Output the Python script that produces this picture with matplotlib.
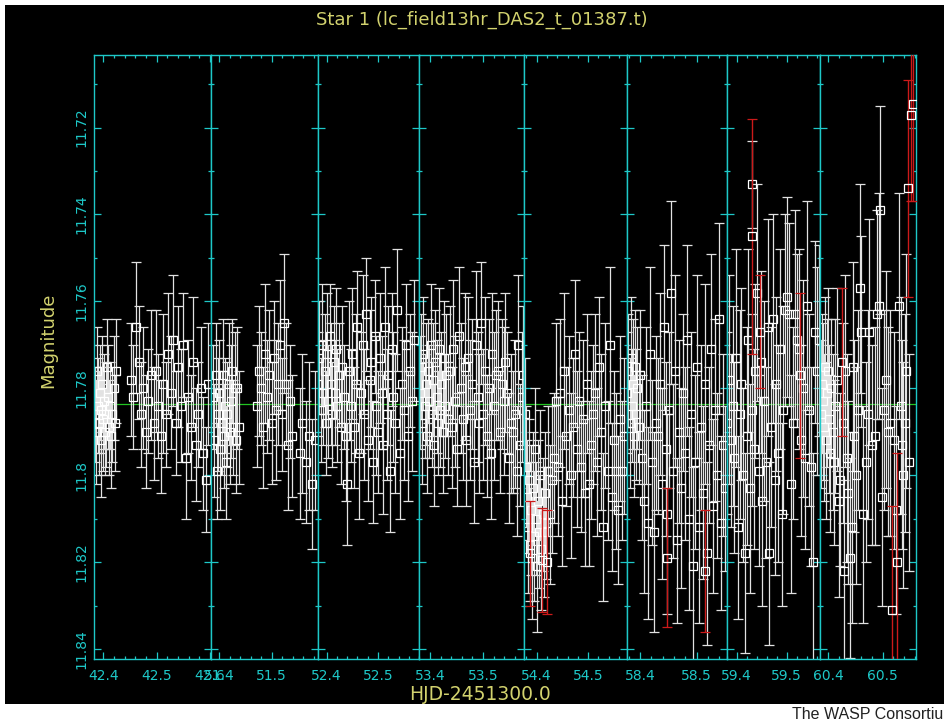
import matplotlib
matplotlib.use("Agg")
import matplotlib.pyplot as plt
from matplotlib.patches import Rectangle
from matplotlib.ticker import MultipleLocator, FuncFormatter

# --- light curve, one block per night (HJD-2451300.0, magnitude, error) ---
t_n1 = [42.3840, 42.3858, 42.3876, 42.3894, 42.3912, 42.3930, 42.3948, 42.3966, 42.3984, 42.4002,
        42.4020, 42.4038, 42.4056, 42.4074, 42.4092, 42.4110, 42.4130, 42.4150, 42.4170, 42.4192,
        42.4215, 42.4240,
        42.4520, 42.4565, 42.4610, 42.4660, 42.4705, 42.4750, 42.4800, 42.4845, 42.4890, 42.4940,
        42.4985, 42.5030, 42.5080, 42.5125, 42.5170, 42.5220, 42.5265, 42.5310, 42.5360, 42.5405,
        42.5450, 42.5500, 42.5545, 42.5590, 42.5640, 42.5685, 42.5730, 42.5780, 42.5825, 42.5870,
        42.5920, 42.5965]
mag_n1 = [11.786, 11.790, 11.776, 11.784, 11.788, 11.781, 11.792, 11.785, 11.779, 11.787,
          11.783, 11.790, 11.786, 11.775, 11.782, 11.789, 11.784, 11.791, 11.786, 11.780,
          11.788, 11.776,
          11.778, 11.782, 11.766, 11.774, 11.786, 11.780, 11.790, 11.783, 11.777, 11.788,
          11.776, 11.784, 11.791, 11.779, 11.786, 11.772, 11.781, 11.769, 11.788, 11.775,
          11.784, 11.770, 11.796, 11.782, 11.789, 11.774, 11.793, 11.786, 11.780, 11.795,
          11.801, 11.779]
err_n1 = [0.011, 0.012, 0.010, 0.011, 0.012, 0.011, 0.013, 0.010, 0.011, 0.012,
          0.011, 0.010, 0.012, 0.011, 0.012, 0.011, 0.010, 0.012, 0.011, 0.012,
          0.011, 0.012,
          0.013, 0.012, 0.015, 0.013, 0.012, 0.014, 0.013, 0.012, 0.015, 0.013,
          0.014, 0.012, 0.013, 0.016, 0.012, 0.014, 0.013, 0.015, 0.012, 0.014,
          0.013, 0.012, 0.014, 0.013, 0.012, 0.015, 0.013, 0.012, 0.014, 0.013,
          0.012, 0.014]

t_n2 = [51.3890, 51.3912, 51.3935, 51.3958, 51.3980, 51.4003, 51.4025, 51.4048, 51.4070, 51.4093,
        51.4115, 51.4138, 51.4160, 51.4183, 51.4205, 51.4228, 51.4250, 51.4273, 51.4295, 51.4318,
        51.4345, 51.4372,
        51.4720, 51.4760, 51.4800, 51.4838, 51.4878, 51.4918, 51.4955, 51.4995, 51.5035, 51.5072,
        51.5112, 51.5150, 51.5190, 51.5228, 51.5268, 51.5308, 51.5345, 51.5385,
        51.5530, 51.5580, 51.5640, 51.5700, 51.5760, 51.5820]
mag_n2 = [11.782, 11.792, 11.777, 11.799, 11.786, 11.781, 11.794, 11.788, 11.777, 11.791,
          11.784, 11.797, 11.786, 11.779, 11.790, 11.783, 11.776, 11.789, 11.780, 11.792,
          11.780, 11.789,
          11.784, 11.776, 11.780, 11.789, 11.772, 11.782, 11.777, 11.788, 11.773, 11.785,
          11.779, 11.770, 11.786, 11.765, 11.779, 11.793, 11.783, 11.791,
          11.795, 11.788, 11.797, 11.791, 11.802, 11.792]
err_n2 = [0.012, 0.013, 0.012, 0.011, 0.013, 0.012, 0.014, 0.012, 0.013, 0.012,
          0.011, 0.013, 0.012, 0.014, 0.012, 0.013, 0.012, 0.011, 0.013, 0.012,
          0.014, 0.013,
          0.014, 0.015, 0.013, 0.014, 0.016, 0.013, 0.015, 0.014, 0.013, 0.016,
          0.014, 0.015, 0.013, 0.016, 0.014, 0.015, 0.013, 0.014,
          0.015, 0.016, 0.014, 0.017, 0.015, 0.016]

t_n3 = [52.3835, 52.3860, 52.3885, 52.3910, 52.3935, 52.3960, 52.3985, 52.4010, 52.4035, 52.4060,
        52.4085, 52.4110, 52.4135, 52.4160, 52.4185, 52.4210, 52.4240, 52.4270, 52.4300, 52.4330,
        52.4370, 52.4400, 52.4435, 52.4470, 52.4500, 52.4535, 52.4570, 52.4600, 52.4635, 52.4670,
        52.4700, 52.4735, 52.4770, 52.4800, 52.4835, 52.4870, 52.4900, 52.4935, 52.4970, 52.5000,
        52.5035, 52.5070, 52.5100, 52.5135, 52.5170, 52.5200, 52.5235, 52.5270, 52.5300, 52.5340,
        52.5380, 52.5420, 52.5460, 52.5500, 52.5540, 52.5580, 52.5620, 52.5660, 52.5700]
mag_n3 = [11.779, 11.773, 11.785, 11.770, 11.781, 11.776, 11.788, 11.772, 11.783, 11.768,
          11.779, 11.786, 11.774, 11.781, 11.771, 11.784, 11.777, 11.789, 11.775, 11.782,
          11.791, 11.802, 11.776, 11.784, 11.772, 11.789, 11.779, 11.766, 11.795, 11.781,
          11.770, 11.786, 11.763, 11.792, 11.778, 11.774, 11.797, 11.768, 11.784, 11.790,
          11.773, 11.781, 11.793, 11.766, 11.786, 11.777, 11.799, 11.771, 11.782, 11.788,
          11.762, 11.795, 11.779, 11.785, 11.770, 11.791, 11.776, 11.783, 11.769]
err_n3 = [0.012, 0.013, 0.012, 0.014, 0.012, 0.013, 0.012, 0.014, 0.013, 0.012,
          0.014, 0.012, 0.013, 0.012, 0.014, 0.013, 0.012, 0.013, 0.014, 0.012,
          0.015, 0.014, 0.016, 0.013, 0.015, 0.014, 0.016, 0.013, 0.015, 0.014,
          0.016, 0.015, 0.013, 0.014, 0.016, 0.015, 0.014, 0.013, 0.016, 0.014,
          0.015, 0.013, 0.016, 0.014, 0.015, 0.016, 0.014, 0.013, 0.015, 0.016,
          0.014, 0.015, 0.013, 0.016, 0.014, 0.015, 0.013, 0.016, 0.014]

t_n4 = [53.3808, 53.3830, 53.3852, 53.3875, 53.3897, 53.3920, 53.3942, 53.3965, 53.3987, 53.4010,
        53.4032, 53.4055, 53.4077, 53.4100, 53.4122, 53.4145, 53.4167, 53.4190, 53.4212, 53.4235,
        53.4260, 53.4285, 53.4310, 53.4335,
        53.4370, 53.4405, 53.4440, 53.4475, 53.4510, 53.4545, 53.4580, 53.4615, 53.4650, 53.4685,
        53.4720, 53.4755, 53.4790, 53.4825, 53.4860, 53.4895, 53.4930, 53.4965, 53.5000, 53.5035,
        53.5070, 53.5105, 53.5140, 53.5175, 53.5210, 53.5245, 53.5280, 53.5315, 53.5350, 53.5385,
        53.5420, 53.5455, 53.5490, 53.5525, 53.5560, 53.5595, 53.5630, 53.5660, 53.5695, 53.5730,
        53.5760]
mag_n4 = [11.781, 11.775, 11.788, 11.772, 11.784, 11.779, 11.791, 11.776, 11.783, 11.770,
          11.786, 11.778, 11.793, 11.774, 11.782, 11.788, 11.771, 11.785, 11.779, 11.790,
          11.773, 11.784, 11.777, 11.787,
          11.776, 11.789, 11.771, 11.783, 11.794, 11.768, 11.780, 11.787, 11.775, 11.792,
          11.773, 11.785, 11.779, 11.797, 11.770, 11.782, 11.788, 11.765, 11.786, 11.776,
          11.791, 11.780, 11.795, 11.772, 11.784, 11.777, 11.776, 11.790, 11.779, 11.783,
          11.774, 11.781, 11.796, 11.788, 11.790, 11.786, 11.799, 11.770, 11.793, 11.782,
          11.777]
err_n4 = [0.013, 0.012, 0.014, 0.013, 0.012, 0.014, 0.013, 0.012, 0.013, 0.014,
          0.012, 0.013, 0.014, 0.012, 0.013, 0.012, 0.014, 0.013, 0.012, 0.014,
          0.013, 0.012, 0.014, 0.013,
          0.015, 0.014, 0.016, 0.015, 0.013, 0.016, 0.015, 0.014, 0.017, 0.015,
          0.014, 0.016, 0.015, 0.014, 0.017, 0.015, 0.016, 0.014, 0.015, 0.017,
          0.014, 0.016, 0.015, 0.014, 0.017, 0.015, 0.016, 0.014, 0.015, 0.017,
          0.016, 0.014, 0.015, 0.016, 0.014, 0.017, 0.015, 0.016, 0.014, 0.015,
          0.016]

t_n5 = [54.3770, 54.3790, 54.3810, 54.3830, 54.3850, 54.3870, 54.3890, 54.3910, 54.3930, 54.3950,
        54.3970, 54.3990, 54.4010, 54.4030, 54.4050, 54.4070, 54.4092, 54.4115, 54.4140, 54.4165,
        54.4190, 54.4215,
        54.4260, 54.4300, 54.4340, 54.4380, 54.4420, 54.4460, 54.4500, 54.4540, 54.4580, 54.4620,
        54.4660, 54.4700, 54.4740, 54.4780, 54.4820, 54.4860, 54.4900, 54.4940, 54.4980, 54.5020,
        54.5060, 54.5100, 54.5140, 54.5180, 54.5220, 54.5260, 54.5300, 54.5340, 54.5380, 54.5420,
        54.5460, 54.5500, 54.5540, 54.5580, 54.5620, 54.5660, 54.5700]
mag_n5 = [11.786, 11.798, 11.805, 11.812, 11.801, 11.816, 11.808, 11.819, 11.803, 11.814,
          11.794, 11.810, 11.821, 11.806, 11.813, 11.800, 11.817, 11.809, 11.813, 11.804,
          11.811, 11.799,
          11.809, 11.801, 11.796, 11.783, 11.798, 11.781, 11.806, 11.776, 11.791, 11.785,
          11.800, 11.789, 11.772, 11.794, 11.783, 11.798, 11.787, 11.804, 11.779, 11.802,
          11.793, 11.786, 11.781, 11.797, 11.775, 11.790, 11.812, 11.784, 11.799, 11.770,
          11.805, 11.792, 11.799, 11.808, 11.787, 11.799, 11.791]
err_n5 = [0.013, 0.014, 0.013, 0.015, 0.014, 0.013, 0.015, 0.014, 0.013, 0.015,
          0.014, 0.013, 0.015, 0.014, 0.013, 0.015, 0.014, 0.013, 0.015, 0.014,
          0.013, 0.015,
          0.016, 0.017, 0.015, 0.018, 0.016, 0.017, 0.015, 0.018, 0.016, 0.017,
          0.019, 0.016, 0.017, 0.018, 0.016, 0.015, 0.018, 0.017, 0.016, 0.019,
          0.017, 0.016, 0.018, 0.017, 0.016, 0.018, 0.017, 0.019, 0.016, 0.018,
          0.017, 0.016, 0.018, 0.017, 0.019, 0.016, 0.018]

t_n6 = [58.3775, 58.3795, 58.3815, 58.3835, 58.3855, 58.3875, 58.3895, 58.3915, 58.3935, 58.3955,
        58.3975, 58.3995,
        58.4030, 58.4065, 58.4100, 58.4135, 58.4170, 58.4205, 58.4240, 58.4275, 58.4310, 58.4345,
        58.4380, 58.4415, 58.4450, 58.4485, 58.4520, 58.4555, 58.4590, 58.4625, 58.4660, 58.4695,
        58.4730, 58.4765, 58.4800, 58.4835, 58.4870, 58.4905, 58.4940, 58.4975, 58.5010, 58.5045,
        58.5080, 58.5115, 58.5150, 58.5185, 58.5220, 58.5255, 58.5290, 58.5325, 58.5360, 58.5395,
        58.5430, 58.5465, 58.5500]
mag_n6 = [11.781, 11.776, 11.788, 11.773, 11.784, 11.779, 11.791, 11.775, 11.786, 11.780,
          11.789, 11.777,
          11.796, 11.806, 11.784, 11.811, 11.772, 11.797, 11.813, 11.788, 11.791, 11.779,
          11.802, 11.766, 11.794, 11.809, 11.785, 11.758, 11.799, 11.776, 11.815, 11.790,
          11.803, 11.781, 11.795, 11.769, 11.810, 11.786, 11.821, 11.797, 11.775, 11.812,
          11.789, 11.804, 11.779, 11.818, 11.793, 11.771, 11.807, 11.785, 11.800, 11.764,
          11.811, 11.793, 11.803]
err_n6 = [0.014, 0.013, 0.015, 0.014, 0.013, 0.015, 0.014, 0.013, 0.015, 0.014,
          0.013, 0.015,
          0.019, 0.021, 0.018, 0.022, 0.020, 0.019, 0.023, 0.020, 0.018, 0.021,
          0.022, 0.019, 0.020, 0.023, 0.018, 0.021, 0.020, 0.022, 0.019, 0.021,
          0.023, 0.018, 0.020, 0.022, 0.021, 0.019, 0.023, 0.020, 0.021, 0.022,
          0.019, 0.020, 0.023, 0.021, 0.018, 0.022, 0.020, 0.021, 0.019, 0.022,
          0.020, 0.021, 0.019]

t_n7 = [59.3815, 59.3850, 59.3885, 59.3920, 59.3955, 59.3990, 59.4025, 59.4060, 59.4095, 59.4130,
        59.4165, 59.4200, 59.4235, 59.4270, 59.4305, 59.4340, 59.4375, 59.4410, 59.4445, 59.4480,
        59.4515, 59.4550, 59.4585, 59.4620, 59.4655, 59.4690, 59.4725, 59.4760, 59.4795, 59.4830,
        59.4865, 59.4900, 59.4935, 59.4970, 59.5005, 59.5045, 59.5085, 59.5125, 59.5165, 59.5205,
        59.5245, 59.5285, 59.5325, 59.5365, 59.5405, 59.5445, 59.5485, 59.5525, 59.5565, 59.5605,
        59.5645, 59.4312]
mag_n7 = [11.788, 11.778, 11.792, 11.784, 11.796, 11.773, 11.812, 11.786, 11.779, 11.800,
          11.818, 11.791, 11.769, 11.803, 11.785, 11.794, 11.776, 11.758, 11.799, 11.774,
          11.806, 11.783, 11.797, 11.766, 11.818, 11.789, 11.764, 11.801, 11.779, 11.795,
          11.771, 11.809, 11.785, 11.762, 11.759, 11.763, 11.802, 11.788, 11.763, 11.769,
          11.771, 11.792, 11.780, 11.796, 11.761, 11.785, 11.798, 11.820, 11.767, 11.776,
          11.769, 11.733]
err_n7 = [0.021, 0.024, 0.020, 0.023, 0.022, 0.025, 0.021, 0.024, 0.022, 0.020,
          0.023, 0.025, 0.021, 0.024, 0.022, 0.023, 0.020, 0.025, 0.022, 0.021,
          0.024, 0.023, 0.022, 0.025, 0.021, 0.023, 0.024, 0.022, 0.020, 0.025,
          0.023, 0.021, 0.024, 0.022, 0.023, 0.021, 0.025, 0.022, 0.024, 0.020,
          0.023, 0.022, 0.025, 0.021, 0.024, 0.022, 0.023, 0.025, 0.021, 0.024,
          0.022, 0.010]

t_n8 = [60.3860, 60.3880, 60.3902, 60.3925, 60.3945, 60.3958, 60.3975, 60.3995, 60.4013, 60.4035,
        60.4055, 60.4080, 60.4105, 60.4130, 60.4160, 60.4190, 60.4216, 60.4270, 60.4290, 60.4308,
        60.4336, 60.4364, 60.4401, 60.4430, 60.4456, 60.4470, 60.4511, 60.4545, 60.4585, 60.4600,
        60.4640, 60.4690, 60.4733, 60.4751, 60.4806, 60.4862, 60.4899, 60.4936, 60.4954, 60.4990,
        60.5028, 60.5065, 60.5102, 60.5139, 60.5212, 60.5240, 60.5305, 60.5340, 60.5360, 60.5385,
        60.5415, 60.5440, 60.5490]
mag_n8 = [11.786, 11.779, 11.783, 11.789, 11.775, 11.792, 11.781, 11.776, 11.787, 11.795,
          11.780, 11.790, 11.797, 11.784, 11.778, 11.806, 11.801, 11.788, 11.822, 11.776,
          11.796, 11.804, 11.819, 11.812, 11.775, 11.791, 11.800, 11.785, 11.757, 11.767,
          11.809, 11.797, 11.786, 11.767, 11.793, 11.791, 11.763, 11.761, 11.739, 11.805,
          11.785, 11.778, 11.790, 11.788, 11.792, 11.808, 11.761, 11.784, 11.793, 11.800,
          11.788, 11.776, 11.797]
err_n8 = [0.017, 0.016, 0.018, 0.017, 0.016, 0.018, 0.017, 0.019, 0.017, 0.018,
          0.016, 0.018, 0.019, 0.020, 0.021, 0.022, 0.020, 0.023, 0.021, 0.022,
          0.024, 0.021, 0.023, 0.022, 0.024, 0.022, 0.025, 0.023, 0.024, 0.022,
          0.025, 0.023, 0.024, 0.026, 0.023, 0.025, 0.024, 0.026, 0.024, 0.025,
          0.023, 0.025, 0.024, 0.026, 0.025, 0.024, 0.026, 0.025, 0.024, 0.026,
          0.025, 0.027, 0.025]

# flagged (red) points
t_flag = [54.3869, 54.4103, 54.4200, 58.4473, 58.5155, 59.4306, 59.4466, 59.5266,
          60.4253, 60.5175, 60.5268, 60.5471, 60.5526, 60.5563]
mag_flag = [11.818, 11.8195, 11.820, 11.819, 11.822, 11.745, 11.767, 11.777,
            11.774, 11.831, 11.820, 11.734, 11.717, 11.7145]
err_flag = [0.012, 0.012, 0.012, 0.016, 0.014, 0.027, 0.013, 0.019,
            0.017, 0.024, 0.025, 0.025, 0.020, 0.0225]

mean_mag = 11.7837

nights = [(t_n1, mag_n1, err_n1), (t_n2, mag_n2, err_n2), (t_n3, mag_n3, err_n3),
          (t_n4, mag_n4, err_n4), (t_n5, mag_n5, err_n5), (t_n6, mag_n6, err_n6),
          (t_n7, mag_n7, err_n7), (t_n8, mag_n8, err_n8)]
xranges = [(42.3826, 42.601), (51.3843, 51.587), (52.3825, 52.5805), (53.3798, 53.577),
           (54.3752, 54.5754), (58.3765, 58.553), (59.38, 59.5666), (60.3847, 60.561)]
edges_px = [94, 210.7, 317.7, 419.3, 524, 626.7, 726.7, 820, 915.7]

W, H = 945, 721
CYAN = '#1ec8c8'
YELLOW = '#d2d26e'

fig = plt.figure(figsize=(W / 100, H / 100), dpi=100, facecolor='white')
# black plotting area of the original image, behind everything
fig.patches.append(Rectangle((5 / W, 17 / H), 940 / W, 699 / H, transform=fig.transFigure,
                             facecolor='black', edgecolor='none', zorder=-10))

for i, (t, m, e) in enumerate(nights):
    x0, x1 = edges_px[i], edges_px[i + 1]
    ax = fig.add_axes([x0 / W, 62 / H, (x1 - x0) / W, 604 / H])
    ax.set_facecolor('black')
    ax.axhline(mean_mag, color='#22c422', lw=0.9, zorder=1.5)
    ax.errorbar(t, m, yerr=e, fmt='s', ms=5.8, mfc='none', mec='white', mew=0.9,
                ecolor='#e2e2e2', elinewidth=0.9, capsize=3.6, capthick=0.9, zorder=2)
    ax.errorbar(t_flag, mag_flag, yerr=err_flag, fmt='s', ms=5.8, mfc='none', mec='white',
                mew=0.9, ecolor='#cc1a1a', elinewidth=1.0, capsize=3.6, capthick=1.0, zorder=3)
    ax.set_xlim(*xranges[i])
    ax.set_ylim(11.8423, 11.7033)

    ax.xaxis.set_major_locator(MultipleLocator(0.1))
    ax.xaxis.set_minor_locator(MultipleLocator(0.02))
    ax.xaxis.set_major_formatter(FuncFormatter(lambda v, p: f"{v:.1f}"))
    ax.yaxis.set_major_locator(MultipleLocator(0.02))
    ax.yaxis.set_minor_locator(MultipleLocator(0.01))
    ax.yaxis.set_major_formatter(FuncFormatter(lambda v, p: f"{v:g}"))

    for s in ax.spines.values():
        s.set_color(CYAN)
        s.set_linewidth(1.0)
    ax.tick_params(which='both', direction='in', top=True, right=True, color=CYAN,
                   labelcolor=CYAN, labelsize=10, width=0.9)
    ax.tick_params(which='major', length=5)
    ax.tick_params(which='minor', length=2.5)
    ax.tick_params(axis='x', pad=7)
    if i == 0:
        ax.tick_params(axis='y', labelrotation=90, pad=4)
        plt.setp(ax.get_yticklabels(), va='center')
    else:
        ax.tick_params(axis='y', labelleft=False)

fig.text(482 / W, 1 - 20 / H, 'Star 1 (lc_field13hr_DAS2_t_01387.t)', ha='center',
         va='center', color=YELLOW, fontsize=13)
fig.text(480 / W, 1 - 694 / H, 'HJD-2451300.0', ha='center', va='center',
         color=YELLOW, fontsize=13.5)
fig.text(48 / W, 1 - 340 / H, 'Magnitude', rotation=90, ha='center', va='center',
         color=YELLOW, fontsize=13)
fig.text(792 / W, 1 - 719 / H, 'The WASP Consortium', ha='left', va='baseline',
         color='#222222', fontsize=11.5, family='Liberation Sans')

fig.savefig('out.png', dpi=100, facecolor='white')
